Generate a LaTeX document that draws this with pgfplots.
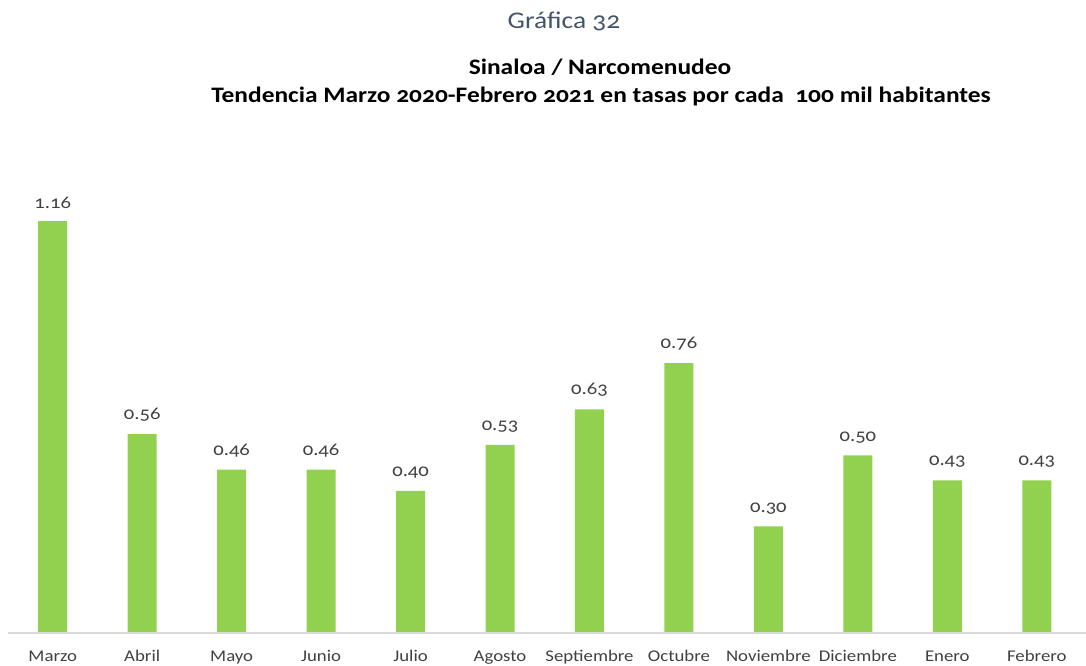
\documentclass[border=0pt]{standalone}
\usepackage{pgfplots}
\pgfplotsset{compat=1.18}
\usepackage{fontspec}
\setmainfont{Carlito}[Numbers=OldStyle, FakeStretch=1.15]
\definecolor{bargreen}{HTML}{92D050}
\definecolor{titleblue}{HTML}{44546A}
\definecolor{txt}{HTML}{404040}
\definecolor{axisgray}{HTML}{D9D9D9}
\begin{document}
\begin{tikzpicture}[x=1bp,y=1bp]
\useasboundingbox (0,0) rectangle (1086,666);
\begin{axis}[
  at={(8bp,33bp)}, anchor=south west,
  scale only axis, width=1078bp, height=483bp,
  xmin=-0.5, xmax=11.55, ymin=0, ymax=1.36,
  axis line style={draw=none},
  axis x line*=bottom, axis y line=none,
  ytick=\empty,
  xtick={0,...,11}, major tick length=0pt,
  xticklabels={Marzo,Abril,Mayo,Junio,Julio,Agosto,Septiembre,Octubre,Noviembre,Diciembre,Enero,Febrero},
  xticklabel style={font=\fontsize{16.4}{18}\selectfont, text=txt, yshift=-14bp},
  ybar, bar width=29bp,
  nodes near coords, point meta=explicit symbolic,
  nodes near coords style={font=\fontsize{18}{20}\selectfont, text=txt, yshift=9bp},
  clip=false,
]
\addplot[fill=bargreen, draw=none] coordinates {
(0,1.16)[1.16] (1,0.56)[0.56] (2,0.46)[0.46] (3,0.46)[0.46] (4,0.40)[0.40] (5,0.53)[0.53]
(6,0.63)[0.63] (7,0.76)[0.76] (8,0.30)[0.30] (9,0.50)[0.50] (10,0.43)[0.43] (11,0.43)[0.43]};
\draw[axisgray, line width=1.5bp] (axis cs:-0.5,0) -- (axis cs:11.55,0);
\end{axis}
\node[text=titleblue, font=\fontsize{24}{26}\selectfont] at (564,645) {Gráfica 32};
\node[font=\bfseries\fontsize{22.2}{24}\selectfont] at (600,599) {Sinaloa / Narcomenudeo};
\node[font=\bfseries\fontsize{22.2}{24}\selectfont] at (601,570) {Tendencia Marzo 2020-Febrero 2021 en tasas por cada~ 100 mil habitantes};
\end{tikzpicture}
\end{document}
